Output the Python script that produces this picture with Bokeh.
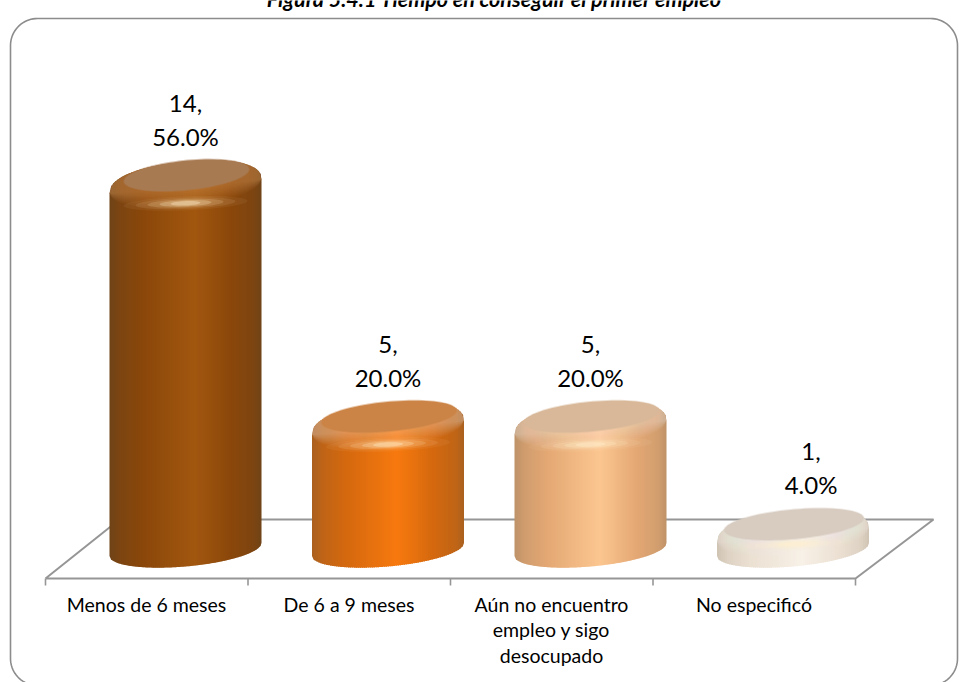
from bokeh.plotting import figure
from bokeh.models import Range1d
from bokeh.core.properties import value
from bokeh.embed import file_html
from bokeh.resources import INLINE
import numpy as np

title_text = "Figura 5.4.1 Tiempo en conseguir el primer empleo"
categories = ["Menos de 6 meses", "De 6 a 9 meses", "Aún no encuentro\nempleo y sigo\ndesocupado", "No especificó"]
counts = [14, 5, 5, 1]
percents = ["56.0%", "20.0%", "20.0%", "4.0%"]

edge_colors = ["#6F4318", "#A9601F", "#BE9268", "#CFC3B3"]
mid_colors = ["#8A470A", "#D4680E", "#E4A874", "#EBE0D2"]
center_colors = ["#A2570F", "#F7790E", "#FCC690", "#F8F1E7"]
face_colors = ["#A87A52", "#CC8446", "#D8B898", "#D8CCC1"]

W, H = 959, 682
X0, DX = 185.0, 202.5
Y0, DY = 559.5, 26.8


def X(px):
    return (np.asarray(px, dtype=float) - X0) / DX


def Y(py):
    return (Y0 - np.asarray(py, dtype=float)) / DY


def PY(v):
    return Y0 - v * DY


def hex2rgb(c):
    return np.array([int(c[i:i + 2], 16) for i in (1, 3, 5)], dtype=float)


def rgb2hex(a):
    a = np.clip(np.round(a), 0, 255).astype(int)
    return "#%02x%02x%02x" % tuple(a)


p = figure(width=W, height=H, x_range=Range1d(float(X(0)), float(X(W))),
           y_range=Range1d(float(Y(H)), float(Y(0))), output_backend="svg",
           toolbar_location=None, min_border=0, background_fill_color="white",
           border_fill_color="white", outline_line_color=None)
p.axis.visible = False
p.grid.visible = False

FONT = value("Lato")
AXC = "#969696"

# outer frame
L, R, T, B, r = 10.0, 957.0, 18.0, 685.0, 27.0
frame_x, frame_y = [], []
for cx, cy, a0 in [(R - r, T + r, -90), (R - r, B - r, 0), (L + r, B - r, 90), (L + r, T + r, 180)]:
    th = np.radians(np.linspace(a0, a0 + 90, 20))
    frame_x += list(cx + r * np.cos(th))
    frame_y += list(cy + r * np.sin(th))
frame_x.append(frame_x[0])
frame_y.append(frame_y[0])
p.line(X(frame_x), Y(frame_y), line_color="#8C8C8C", line_width=1.6)

# title
p.text([X(494)], [Y(-1.5)], text=[title_text], text_font=FONT, text_font_size="21.5px",
       text_font_style="bold italic", text_align="center", text_baseline="alphabetic",
       text_color="#000000")

# floor
p.line(X([45, 855, 933, 119, 45]), Y([578, 578, 519, 519, 578]), line_color=AXC, line_width=2)
tick_px = [45 + 202.5 * i for i in range(5)]
p.segment(X(tick_px), Y([578] * 5), X(tick_px), Y([585] * 5), line_color=AXC, line_width=1.6)

A = 76.0         # half width of the cylinder, px
BASE_Y = 549.0   # centre of the base ellipse, px
K0, B0 = 6.5, 17.0
K1, B1 = 7.0, 24.5


def sup(u, e=2.3):
    return (1 - np.abs(u) ** e) ** (1 / e)


for i, v in enumerate(counts):
    cx = X0 + DX * i
    cy = PY(v) + (1.5 if v > 1 else 2.0)
    edge, mid, cen = hex2rgb(edge_colors[i]), hex2rgb(mid_colors[i]), hex2rgb(center_colors[i])
    stops = [0, .07, .22, .56, .8, .95, 1]
    cols = [edge, (edge + mid) / 2, mid, cen, mid, (edge + mid) / 2, edge]
    n = 76
    edges = np.linspace(-1, 1, n + 1)
    xs, ys, fc = [], [], []
    for j in range(n):
        ua, ub = edges[j], edges[j + 1]
        us = np.linspace(ua, min(ub + .012, 1), 3)
        um = (ua + ub) / 2
        t = (um + 1) / 2
        c = np.array([np.interp(t, stops, [q[ch] for q in cols]) for ch in range(3)])
        top = cy - K1 * us - B1 * sup(us)
        bot = BASE_Y - K0 * us + B0 * np.sqrt(np.clip(1 - us ** 2, 0, 1))
        xs.append(X(np.r_[cx + A * us, (cx + A * us)[::-1]]).tolist())
        ys.append(Y(np.r_[top, bot[::-1]]).tolist())
        fc.append(rgb2hex(c))
    p.patches(xs, ys, fill_color=fc, line_color=None)

    # rounded rim: stacked translucent lobes
    uu = np.linspace(-1, 1, 81)
    for off in np.linspace(24, 2, 12):
        yt = cy - K1 * uu - B1 * sup(uu)
        yb = cy - K1 * uu + (off * 0.85) * sup(uu, 2.0)
        p.patch(X(np.r_[cx + A * uu, (cx + A * uu)[::-1]]), Y(np.r_[yt, yb[::-1]]),
                fill_color="#ffffff" if v < 14 else "#F0B070", fill_alpha=.03, line_color=None)

    # highlight under the top face: soft glow following the rim
    hy = cy + (17 if v > 1 else 9)
    for w, h, al in [(62, 7, .06), (50, 5.5, .1), (38, 4.2, .16), (26, 3.2, .26), (15, 2.2, .38)]:
        tt = np.linspace(0, 2 * np.pi, 50)
        p.patch(X(cx + w * np.cos(tt)), Y(hy + h * np.sin(tt) - 2 * w / 50 * np.cos(tt)),
                fill_color="#FFF0CC", fill_alpha=al, line_color=None)

    # top face with a soft lower edge
    a = 70 - 0.55 * v
    fx, fy = cx + 1, cy - 11
    tt = np.linspace(0, 2 * np.pi, 90)
    for grow, al in [(1.0, .45), (0, 1)]:
        p.patch(X(fx + (a + grow) * np.cos(tt)), Y(fy + (14.6 + grow) * np.sin(tt) - 6 * np.cos(tt)),
                fill_color=face_colors[i], fill_alpha=al, line_color=None)

# data labels
label_dx = [0, 0, 0, 18]
label_txt = [f"{c},\n{q}" for c, q in zip(counts, percents)]
lx = [i + d / DX for i, d in enumerate(label_dx)]
ly = [v + 97 / DY for v in counts]
p.text(lx, ly, text=label_txt, text_font=FONT, text_font_size="24px", text_align="center",
       text_baseline="top", text_line_height=1.18, text_color="#000000")

# category labels
cat_x = [X(146 + 202.5 * i) for i in range(4)]
p.text(cat_x, [Y(592)] * 4, text=categories, text_font=FONT, text_font_size="19.5px",
       text_align="center", text_baseline="top", text_line_height=1.11, text_color="#000000")

open("out.html", "w").write(file_html(p, INLINE))
